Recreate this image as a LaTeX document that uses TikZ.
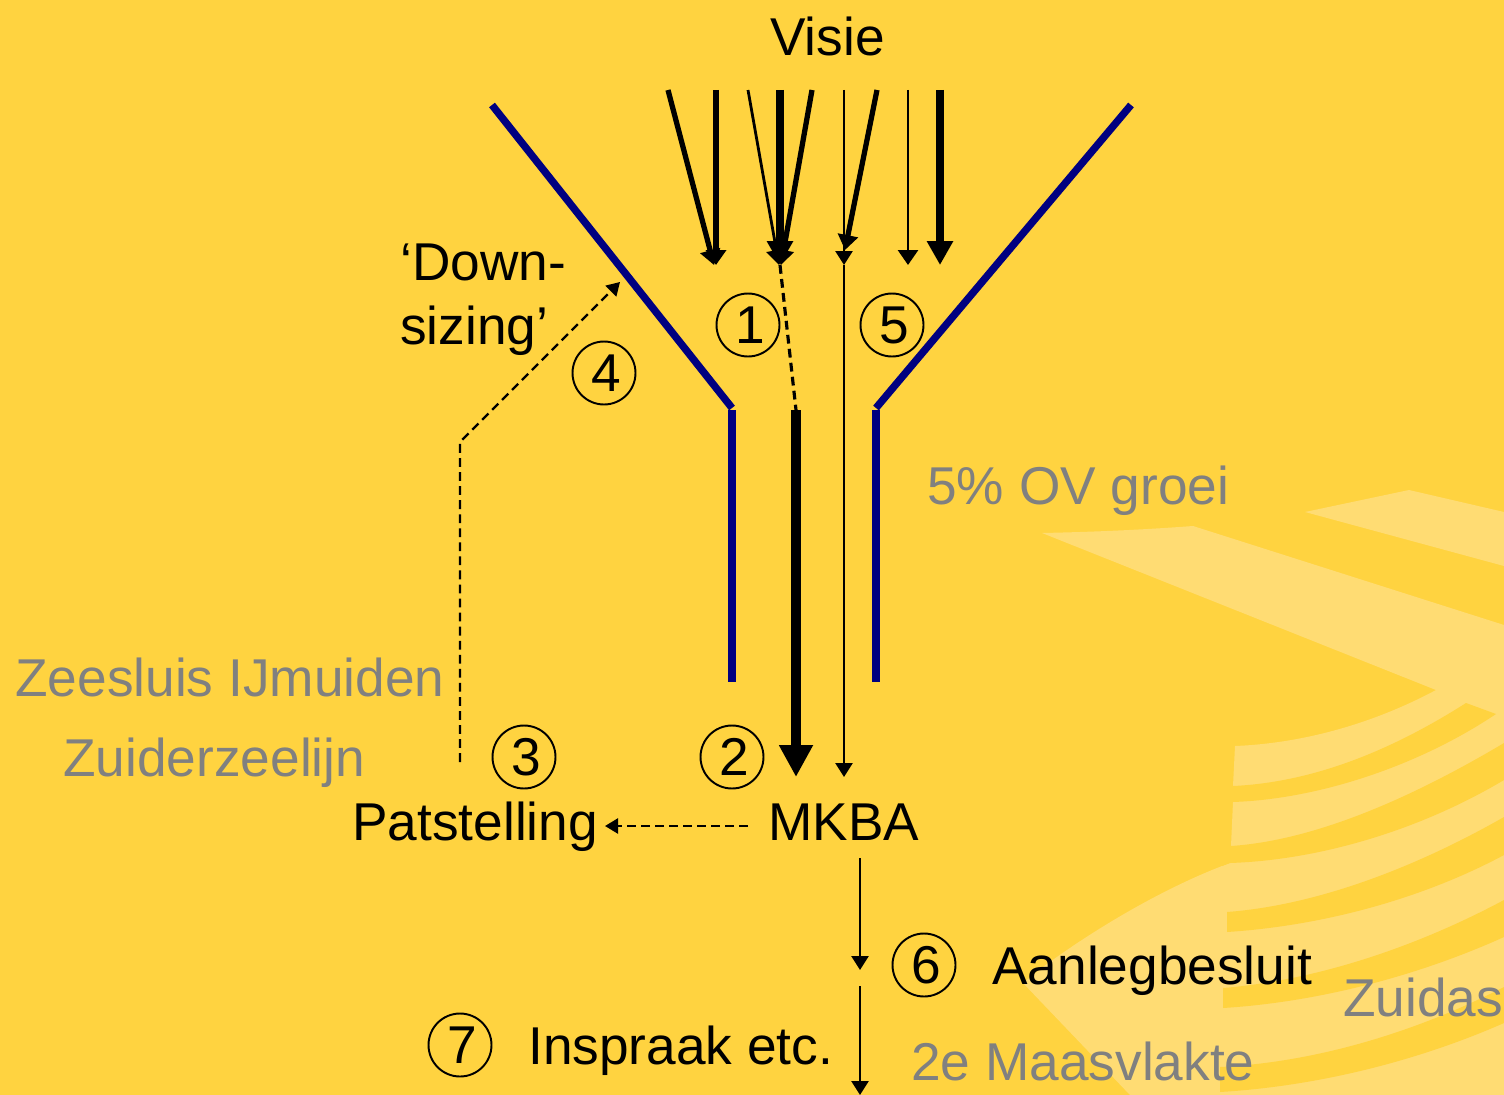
\documentclass[tikz,border=0pt]{standalone}
\usepackage{fontspec}
\setmainfont{Liberation Sans}
\usepackage{tkz-euclide}
\usetikzlibrary{arrows.meta,calc}
\definecolor{BackClr}{RGB}{255,211,64}
\definecolor{WaveClr}{RGB}{255,220,115}
\definecolor{FunnelClr}{RGB}{0,0,128}
\definecolor{LabelClr}{RGB}{128,128,128}
\tikzset{
  txt/.style={anchor=base west,inner sep=0pt,font=\fontsize{30.3}{36}\selectfont},
  greytxt/.style={txt,text=LabelClr},
  num/.style={circle,draw=black,line width=1.1pt,minimum size=1.26cm,inner sep=0pt,font=\fontsize{30.3}{36}\selectfont,execute at begin node=\hspace*{.08cm}},
  funnel/.style={line width=4.2pt,color=FunnelClr,line cap=butt},
  hairarrow/.style={line cap=butt,line width=1.5pt,-{Triangle[length=.28cm,width=.34cm]}},
  slimarrow/.style={line cap=butt,line width=1.6pt,-{Triangle[length=.3cm,width=.4cm]}},
  midarrow/.style={line cap=butt,line width=3pt,-{Triangle[length=.3cm,width=.4cm]}},
  fatarrow/.style={line cap=butt,line width=4.6pt,-{Triangle[length=.48cm,width=.5cm]}},
  hugearrow/.style={line cap=butt,line width=6pt,-{Triangle[length=.64cm,width=.64cm]}},
  dashline/.style={line cap=butt,line width=1.4pt,dash pattern=on 5pt off 3pt},
}
\begin{document}
\begin{tikzpicture}[x=.02cm,y=-.02cm]
\useasboundingbox (0,0) rectangle (1504,1095);
\fill[BackClr] (0,0) rectangle (1504,1095);

% waves in the background
\fill[WaveClr] (1305,512) -- (1409,490) -- (1504,512) -- (1504,566) -- cycle;
\fill[WaveClr] (1042,533) .. controls (1090,532) and (1140,530) .. (1193,526) -- (1504,625) -- (1504,1095)
  -- (1130,1095) -- (1023,983) -- (1043,967) .. controls (1100,925) and (1170,885) .. (1230,863)
  -- (1231,846) -- (1233,802) -- (1233,786) -- (1235,746) .. controls (1310,743) and (1380,720) .. (1436,690) -- (1042,533) -- cycle;
\fill[BackClr] (1225,786) -- (1233,786) .. controls (1320,782) and (1400,745) .. (1466,703) -- (1496,714)
  .. controls (1420,765) and (1320,799) .. (1233,802) -- (1225,802) -- cycle;
\fill[BackClr] (1222,846) -- (1231,846) .. controls (1320,840) and (1420,793) .. (1504,743) -- (1504,780)
  .. controls (1420,830) and (1320,860) .. (1230,863) -- (1222,866) -- cycle;
\fill[BackClr] (1227,912) .. controls (1320,905) and (1420,865) .. (1504,817) -- (1504,855)
  .. controls (1420,900) and (1320,926) .. (1227,932) -- cycle;
\fill[BackClr] (1223,988) .. controls (1320,980) and (1420,945) .. (1504,900) -- (1504,937)
  .. controls (1420,975) and (1320,1002) .. (1223,1008) -- cycle;
\fill[BackClr] (1220,1067) .. controls (1320,1062) and (1420,1030) .. (1504,987) -- (1504,1023)
  .. controls (1420,1060) and (1320,1086) .. (1220,1092) -- cycle;

\tkzDefPoints{492/105/FL1,732/408/FL2,732/410/FL3,732/682/FL4,1131/105/FR1,876/408/FR2,876/410/FR3,876/682/FR4}
\tkzDefPoints{668/90/V1,714/265/V2,716/90/V3,716/265/V4,748/90/V5,779/265/V6,780/90/V7,780/265/V8,812/90/V9,781/265/V10}
\tkzDefPoints{844/90/V11,844/265/V12,877/90/V13,845/250/V14,908/90/V15,908/265/V16,940/90/V17,940/265/V18}
\tkzDefPoints{796/410/M1,796/777/M2,844/265/M3,844/777/M4}
\tkzDefPoints{460/762/D1,460/442/D2,620/282/D3,748/826/D4,605/826/D5}
\tkzDefPoints{860/858/B1,860/970/B2,860/986/B3,860/1095/B4}

\tkzDrawSegments[funnel](FL1,FL2 FL3,FL4 FR1,FR2 FR3,FR4)

\tkzDrawSegments[midarrow](V1,V2 V3,V4 V9,V10 V13,V14)
\tkzDrawSegments[slimarrow](V5,V6 V15,V16)
\tkzDrawSegments[hairarrow](V11,V12 M3,M4 B1,B2 B3,B4)
\tkzDrawSegments[fatarrow](V7,V8 V17,V18)
\tkzDrawSegments[hugearrow](M1,M2)

\draw[dashline,line width=1.8pt] (V8) -- (M1);
\draw[dashline,-{Triangle[length=.26cm,width=.3cm]}] (D1) -- (D2) -- (D3);
\draw[dashline,-{Triangle[length=.26cm,width=.3cm]}] (D4) -- (D5);

\node[txt] (Visie) at (770,56) {Visie};
\node[txt] (Down) at (400,280) {‘Down-};
\node[txt] (Sizing) at (400,344) {sizing’};
\node[txt] (Pat) at (352,840) {Patstelling};
\node[txt] (MKBA) at (768,840) {MKBA};
\node[txt] (Aanleg) at (992,984) {Aanlegbesluit};
\node[txt] (Inspraak) at (528,1064) {Inspraak etc.};
\node[greytxt] (OV) at (927,504) {5\% OV groei};
\node[greytxt] (Zeesluis) at (15,696) {Zeesluis IJmuiden};
\node[greytxt] (Zuiderzee) at (63,776) {Zuiderzeelijn};
\node[greytxt] (Zuidas) at (1343,1016) {Zuidas};
\node[greytxt] (Maas) at (911,1080) {2e Maasvlakte};

\node[num] (N1) at (748,325) {1};
\node[num] (N2) at (732,757) {2};
\node[num] (N3) at (524,757) {3};
\node[num] (N4) at (604,373) {4};
\node[num] (N5) at (892,325) {5};
\node[num] (N6) at (924,965) {6};
\node[num] (N7) at (460,1045) {7};
\end{tikzpicture}
\end{document}
